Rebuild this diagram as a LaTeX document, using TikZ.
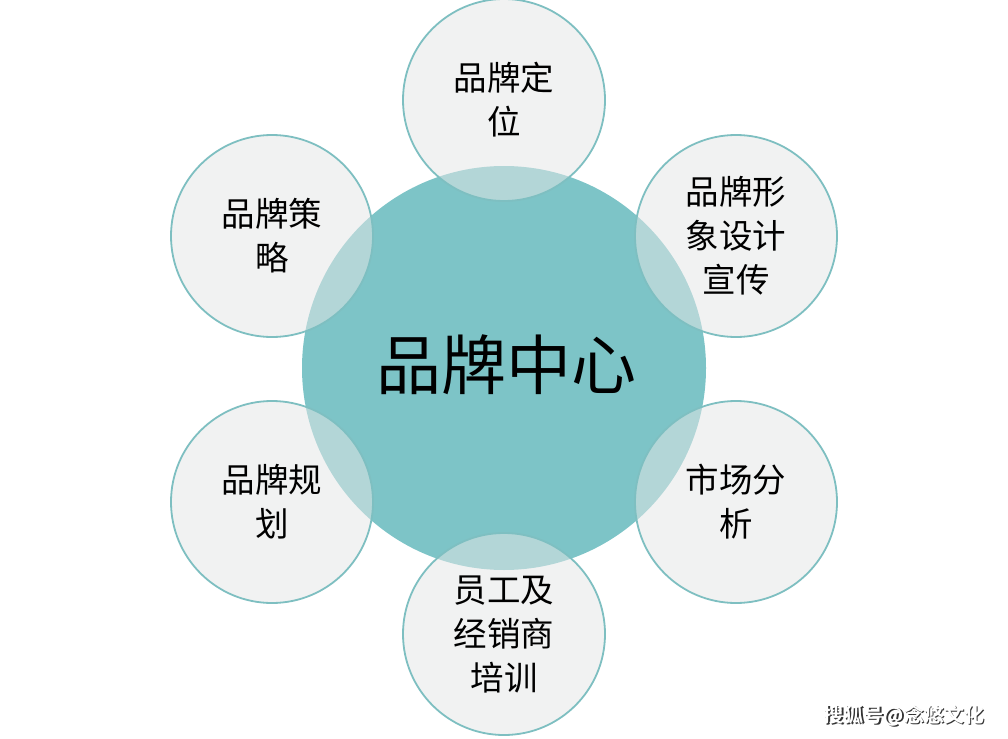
\documentclass[tikz,border=0pt]{standalone}
\usepackage{fontspec}
\newfontfamily\cjk{Noto Sans CJK SC}
\newfontfamily\cjkb{Noto Sans CJK SC Bold}
\definecolor{teal1}{HTML}{7DC4C7}
\definecolor{ring}{HTML}{7EBFC1}
\definecolor{satfill}{HTML}{E6E7E7}
\tikzset{
  hub/.style={circle, fill=teal1, minimum size=404pt, inner sep=0pt},
  sat/.style={circle, draw=ring, line width=1.8pt, fill=satfill, fill opacity=0.52, draw opacity=1, text opacity=1, minimum size=202pt, inner sep=0pt, align=center, font=\cjk\fontsize{33.5}{44}\selectfont},
  hubtext/.style={font=\cjk\fontsize{65}{70}\selectfont},
  wm/.style={font=\cjkb\fontsize{20}{22}\selectfont}
}
\begin{document}
\begin{tikzpicture}[x=1pt,y=-1pt]
\useasboundingbox[fill=white] (0,0) rectangle (1008,738);
\node[hub] (hub) at (504,368) {};
\node[sat] (top) at (504,100) {品牌定\\位};
\node[sat] (ur) at (736,236) {品牌形\\象设计\\宣传};
\node[sat] (lr) at (736,502) {市场分\\析};
\node[sat] (bot) at (504,634) {员工及\\经销商\\培训};
\node[sat] (ll) at (272,502) {品牌规\\划};
\node[sat] (ul) at (272,236) {品牌策\\略};
\node[hubtext] (hubt) at (506,365) {品牌中心};
\node[wm, text=black!80] (wms) at (905.2,717.2) {搜狐号@念悠文化};
\node[wm, text=white] (wm) at (904,716) {搜狐号@念悠文化};
\end{tikzpicture}
\end{document}
